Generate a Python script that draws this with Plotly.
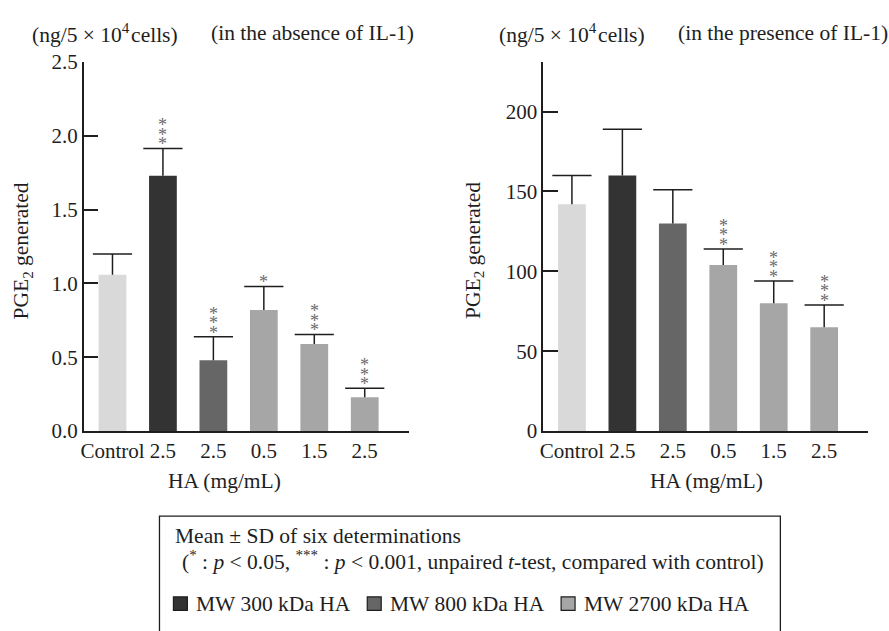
import plotly.graph_objects as go

# ---- data -------------------------------------------------------------
categories = ["Control", "2.5", "2.5", "0.5", "1.5", "2.5"]
groups = ["control", "300", "800", "2700", "2700", "2700"]

absent_mean = [1.06, 1.73, 0.48, 0.82, 0.59, 0.23]
absent_sd = [0.14, 0.185, 0.16, 0.16, 0.065, 0.06]
absent_sig = ["", "***", "***", "*", "***", "***"]

present_mean = [142, 160, 130, 104, 80, 65]
present_sd = [18, 29, 21, 10, 14, 14]
present_sig = ["", "", "", "***", "***", "***"]

legend_groups = ["300", "800", "2700"]
legend_names = ["MW 300 kDa HA", "MW 800 kDa HA", "MW 2700 kDa HA"]

# ---- style ------------------------------------------------------------
W, H = 889, 631
FONT = "Liberation Serif"
FS = 21.5
TICK_FS = 21
INK = "#1e1e1e"
STAR = "#6a6a6a"
colors = {"control": "#d9d9d9", "300": "#333333", "800": "#666666", "2700": "#a6a6a6"}


def px(x):
    return x / W


def py(y):
    return 1 - y / H


positions = list(range(len(categories)))
bar_colors = [colors[g] for g in groups]

fig = go.Figure()

panels = [
    ("x", "y", absent_mean, absent_sd, absent_sig),
    ("x2", "y2", present_mean, present_sd, present_sig),
]

annotations = []
for xa, ya, mean, sd, sig in panels:
    top = [m + s for m, s in zip(mean, sd)]
    # bars with the error stem (no cross-bars from error_y)
    fig.add_trace(go.Bar(
        x=positions, y=mean, width=0.55, xaxis=xa, yaxis=ya,
        marker=dict(color=bar_colors, line=dict(width=0)),
        error_y=dict(type="data", symmetric=False, array=sd,
                     arrayminus=[0] * len(sd), width=0,
                     thickness=1.5, color=INK),
        showlegend=False, hoverinfo="skip",
    ))
    # cross-bar at the top of each error bar
    fig.add_trace(go.Scatter(
        x=positions, y=top, mode="markers", xaxis=xa, yaxis=ya,
        marker=dict(symbol="line-ew", size=28,
                    line=dict(width=1.5, color=INK)),
        showlegend=False, hoverinfo="skip",
    ))
    # significance asterisks stacked above the error bars
    for i, s in enumerate(sig):
        for k in range(len(s)):
            annotations.append(dict(
                x=positions[i], y=top[i], xref=xa, yref=ya, text="*",
                showarrow=False, yanchor="middle", yshift=4 + 9.5 * k,
                font=dict(family=FONT, size=18, color=STAR),
            ))

axis_common = dict(showline=True, linecolor=INK, linewidth=1.5,
                   showgrid=False, zeroline=False,
                   tickfont=dict(family=FONT, size=TICK_FS, color=INK))

y_dom = [py(435.7), py(52)]
x_range = [-0.57, 5.87]
y2_top = 231

fig.update_layout(
    width=W, height=H, autosize=False,
    margin=dict(l=0, r=0, t=0, b=0),
    paper_bgcolor="white", plot_bgcolor="white",
    font=dict(family=FONT, size=FS, color=INK),
    showlegend=False,
    xaxis=dict(domain=[px(81), px(407)], range=x_range, anchor="y",
               tickvals=positions, ticktext=categories, ticks="", **axis_common),
    yaxis=dict(domain=y_dom, range=[0, 2.5], anchor="x",
               tickvals=[0, 0.5, 1.0, 1.5, 2.0, 2.5], tickformat=".1f",
               ticks="inside", ticklen=15, tickwidth=1.5, tickcolor=INK,
               **axis_common),
    xaxis2=dict(domain=[px(542), px(868)], range=x_range, anchor="y2",
                tickvals=positions, ticktext=categories, ticks="", **axis_common),
    yaxis2=dict(domain=y_dom, range=[0, y2_top], anchor="x2",
                tickvals=[0, 50, 100, 150, 200, y2_top],
                ticktext=["0", "50", "100", "150", "200", ""],
                ticks="inside", ticklen=15, tickwidth=1.5, tickcolor=INK,
                **axis_common),
)


def text(x, y, s, xanchor="left", angle=0, size=FS):
    annotations.append(dict(
        x=px(x), y=py(y), xref="paper", yref="paper", text=s,
        showarrow=False, xanchor=xanchor, yanchor="middle", textangle=angle,
        font=dict(family=FONT, size=size, color=INK),
    ))


unit = "(ng/5 × 10<sup>4</sup>\u200acells)"
text(27, 22, unit)
text(207, 22, "(in the absence of IL-1)")
text(496, 22, unit)
text(675, 22, "(in the presence of IL-1)")

ylab = "PGE<sub>2</sub> generated"
text(20, 248, ylab, xanchor="center", angle=-90)
text(473, 248, ylab, xanchor="center", angle=-90)

text(222, 488, "HA (mg/mL)", xanchor="center")
text(706, 488, "HA (mg/mL)", xanchor="center")

# legend box
shapes = [dict(type="rect", xref="paper", yref="paper",
               x0=px(157), x1=px(780), y0=py(645), y1=py(524),
               line=dict(color=INK, width=1.3), fillcolor="rgba(0,0,0,0)")]
text(171, 545, "Mean ± SD of six determinations")
text(178, 570, "(<sup>*</sup> : <i>p</i> &lt; 0.05, <sup>***</sup> : <i>p</i> &lt; 0.001, "
               "unpaired <i>t</i>-test, compared with control)")

item_x = [171, 365.5, 560]
for xi, g, name in zip(item_x, legend_groups, legend_names):
    shapes.append(dict(type="rect", xref="paper", yref="paper",
                       x0=px(xi), x1=px(xi + 14), y0=py(622), y1=py(608),
                       line=dict(color=INK, width=1.2), fillcolor=colors[g]))
    text(xi + 21, 615, name)

fig.update_layout(annotations=annotations, shapes=shapes)

fig.write_html("out.html")
